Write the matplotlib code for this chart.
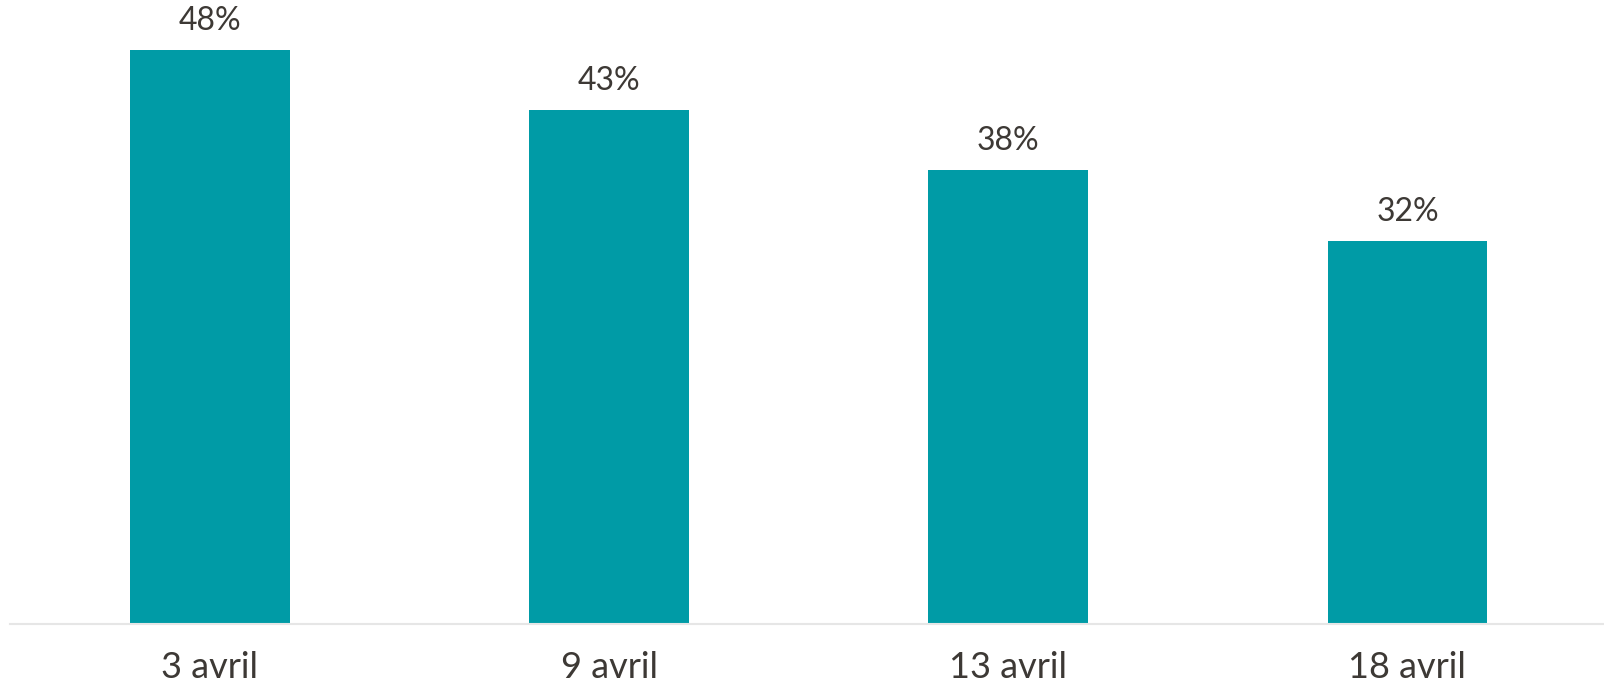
import matplotlib.pyplot as plt

dates = ["3 avril", "9 avril", "13 avril", "18 avril"]
values = [48, 43, 38, 32]

BAR_COLOR = "#009ba6"
TEXT_COLOR = "#3d3935"

plt.rcParams['font.family'] = ['Lato', 'DejaVu Sans']

fig = plt.figure(figsize=(16.04, 6.88), dpi=100)
ax = fig.add_axes([10.4 / 1604, 64.5 / 688, 1596.6 / 1604, 623.5 / 688])

x = range(len(dates))
bars = ax.bar(x, values, width=0.4, color=BAR_COLOR, zorder=2)

for b, v in zip(bars, values):
    ax.annotate(f"{v}%", (b.get_x() + b.get_width() / 2, b.get_height()),
                xytext=(0, 10), textcoords="offset points",
                ha="center", va="bottom", fontsize=23, color=TEXT_COLOR)

ax.set_xlim(-0.5, 3.5)
ax.set_ylim(0, 52.2)
ax.set_xticks(list(x))
ax.set_xticklabels(dates, fontsize=26, color=TEXT_COLOR)
ax.tick_params(axis="x", length=0, pad=20)
ax.set_yticks([])

for side in ["top", "right", "left"]:
    ax.spines[side].set_visible(False)
ax.spines["bottom"].set_color("#e6e6e6")
ax.spines["bottom"].set_linewidth(1.5)

fig.savefig("out.png", dpi=100)
